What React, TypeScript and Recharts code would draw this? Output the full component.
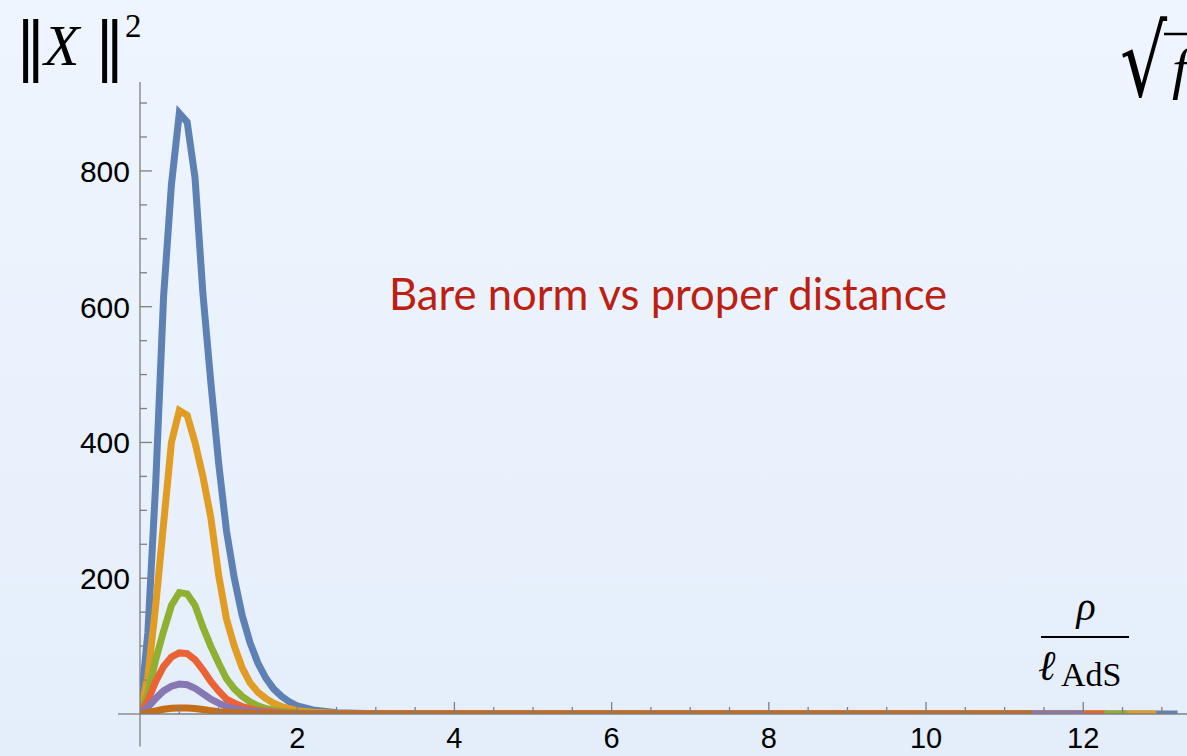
import React from 'react';
import { LineChart, Line, XAxis, YAxis, ReferenceLine } from 'recharts';

// ============ Data ============

// proper distance rho / l_AdS, sample points
const RHO = [0, 0.1, 0.2, 0.3, 0.4, 0.5, 0.6, 0.7, 0.8, 0.9, 1.0, 1.1, 1.2, 1.3, 1.4, 1.5, 1.6, 1.7, 1.8, 1.9, 2.0, 2.2, 2.5, 3, 4];

// bare norm ||X||^2 for each curve
const BLUE = [0, 120, 340, 615, 780, 885, 872, 790, 620, 490, 370, 270, 200, 145, 105, 75, 53, 37, 26, 18, 12, 6, 2, 0.5, 0];
const ORANGE = [0, 55, 160, 280, 400, 447, 440, 400, 350, 290, 205, 140, 100, 68, 46, 32, 23, 16, 11, 8, 5, 2.5, 1, 0, 0];
const GREEN = [0, 30, 80, 122, 160, 179, 177, 160, 128, 100, 75, 52, 37, 26, 18, 12, 8, 6, 4, 3, 2, 1, 0.5, 0, 0];
const RED = [0, 20, 48, 70, 84, 90, 89, 80, 65, 48, 34, 22, 16, 11, 8, 5, 4, 3, 2, 1.5, 1, 0.5, 0.3, 0, 0];
const PURPLE = [0, 10, 23, 34, 41, 44, 43, 38, 30, 22, 16, 11, 8, 5.5, 4, 3, 2, 1.5, 1, 0.7, 0.5, 0.3, 0, 0, 0];
const BROWN = [0, 2, 4.5, 7, 8.5, 9, 9, 8, 6.5, 5, 3.5, 2.7, 2, 1.5, 1, 0.7, 0.5, 0.3, 0.2, 0.1, 0, 0, 0, 0, 0];

// where each curve stops on the rho axis
const END_RHO = { blue: 13.2, orange: 12.93, green: 12.56, red: 12.27, purple: 12.0, brown: 11.34 };

const X_TICKS = [0.5, 1, 1.5, 2, 2.5, 3, 3.5, 4, 4.5, 5, 5.5, 6, 6.5, 7, 7.5, 8, 8.5, 9, 9.5, 10, 10.5, 11, 11.5, 12, 12.5, 13];
const X_LABELS = [2, 4, 6, 8, 10, 12];
const Y_TICKS = [50, 100, 150, 200, 250, 300, 350, 400, 450, 500, 550, 600, 650, 700, 750, 800, 850, 900];
const Y_LABELS = [200, 400, 600, 800];

const COLORS = {
  blue: '#5E81B5',
  orange: '#E19C24',
  green: '#8FB032',
  red: '#EB6235',
  purple: '#8778B3',
  brown: '#C56E1A',
};

function build(values: number[], end: number) {
  const pts = RHO.map((x, i) => ({ x, y: values[i] }));
  pts.push({ x: end, y: 0 });
  return pts;
}

const SERIES = [
  { key: 'blue', data: build(BLUE, END_RHO.blue) },
  { key: 'orange', data: build(ORANGE, END_RHO.orange) },
  { key: 'green', data: build(GREEN, END_RHO.green) },
  { key: 'red', data: build(RED, END_RHO.red) },
  { key: 'purple', data: build(PURPLE, END_RHO.purple) },
  { key: 'brown', data: build(BROWN, END_RHO.brown) },
];

// ============ Axis ticks (Mathematica style, pointing inward) ============

const AXIS = '#7f7f7f';
const TICK_FONT = '"Liberation Sans", Arial, sans-serif';
const SERIF = '"Liberation Serif", "Times New Roman", serif';

const XTick = (props: any) => {
  const { x, y, payload } = props;
  const major = X_LABELS.includes(payload.value);
  return (
    <g>
      <line x1={x} x2={x} y1={y} y2={y - (major ? 12 : 7)} stroke={AXIS} strokeWidth={1.3} />
      {major && (
        <text x={x} y={y + 34} textAnchor="middle" fontSize={29} fontFamily={TICK_FONT} fill="#000">
          {payload.value}
        </text>
      )}
    </g>
  );
};

const YTick = (props: any) => {
  const { x, y, payload } = props;
  const major = Y_LABELS.includes(payload.value);
  return (
    <g>
      <line x1={x} x2={x + (major ? 12 : 7)} y1={y} y2={y} stroke={AXIS} strokeWidth={1.3} />
      {major && (
        <text x={x - 10} y={y + 11} textAnchor="end" fontSize={30} fontFamily={TICK_FONT} fill="#000">
          {payload.value}
        </text>
      )}
    </g>
  );
};

// ============ Main ============

export default function App() {
  return (
    <div
      style={{
        position: 'relative',
        width: 1187,
        height: 756,
        overflow: 'hidden',
        background: 'linear-gradient(to bottom, #EFF5FE, #E4EEFA)',
      }}
    >
      <style>{'body{margin:0}'}</style>
      <LineChart width={1187} height={756} margin={{ top: 82, right: 0, left: 80, bottom: 12 }}>
        <XAxis
          type="number"
          dataKey="x"
          domain={[0, 13.32]}
          ticks={X_TICKS}
          interval={0}
          allowDataOverflow
          tickSize={0}
          tickMargin={0}
          tick={<XTick />}
          height={30}
          axisLine={{ stroke: AXIS, strokeWidth: 1.3 }}
        />
        <YAxis
          type="number"
          dataKey="y"
          domain={[0, 931]}
          ticks={Y_TICKS}
          interval={0}
          allowDataOverflow
          tickSize={0}
          tickMargin={0}
          tick={<YTick />}
          width={60}
          axisLine={{ stroke: AXIS, strokeWidth: 1.3 }}
        />
        <ReferenceLine
          segment={[{ x: -0.28, y: 0 }, { x: 0, y: 0 }]}
          ifOverflow="visible"
          stroke={AXIS}
          strokeWidth={1.3}
        />
        <ReferenceLine
          segment={[{ x: 0, y: -48 }, { x: 0, y: 0 }]}
          ifOverflow="visible"
          stroke={AXIS}
          strokeWidth={1.3}
        />
        {SERIES.map((s) => (
          <Line
            key={s.key}
            data={s.data}
            dataKey="y"
            type="linear"
            stroke={COLORS[s.key as keyof typeof COLORS]}
            strokeWidth={7}
            dot={false}
            isAnimationActive={false}
          />
        ))}
      </LineChart>

      {/* labels and annotation */}
      <svg
        width={1187}
        height={756}
        style={{ position: 'absolute', left: 0, top: 0, pointerEvents: 'none' }}
      >
        {/* ||X||^2 */}
        <text x={15} y={68} fontFamily='"DejaVu Serif", serif' fontSize={63} fill="#000">‖</text>
        <text x={44} y={65} fontFamily={SERIF} fontStyle="italic" fontSize={58} fill="#000">X</text>
        <text x={94} y={68} fontFamily='"DejaVu Serif", serif' fontSize={63} fill="#000">‖</text>
        <text x={125} y={37} fontFamily={SERIF} fontSize={33} fill="#000">2</text>

        {/* rho / l_AdS */}
        <text x={1086} y={620} textAnchor="middle" fontFamily={SERIF} fontStyle="italic" fontSize={40} fill="#000">ρ</text>
        <line x1={1041} x2={1129} y1={637} y2={637} stroke="#000" strokeWidth={2} />
        <text x={1038} y={680} fontFamily={SERIF} fontStyle="italic" fontSize={42} fill="#000">ℓ</text>
        <text x={1061} y={686} fontFamily={SERIF} fontSize={34} fill="#000">AdS</text>

        {/* sqrt f, cut by the right edge */}
        <text
          transform="translate(1120,96) scale(1,1.33)"
          x={0}
          y={0}
          fontFamily='"DejaVu Serif", serif'
          fontSize={74}
          fill="#000"
        >
          √
        </text>
        <line x1={1164} x2={1187} y1={34} y2={34} stroke="#000" strokeWidth={2.5} />
        <text x={1172} y={88} fontFamily={SERIF} fontStyle="italic" fontSize={58} fill="#000">f</text>

        <text x={389} y={310} fontFamily='Lato, "Open Sans", sans-serif' fontSize={43.6} fill="#BC2012">
          Bare norm vs proper distance
        </text>
      </svg>
    </div>
  );
}
